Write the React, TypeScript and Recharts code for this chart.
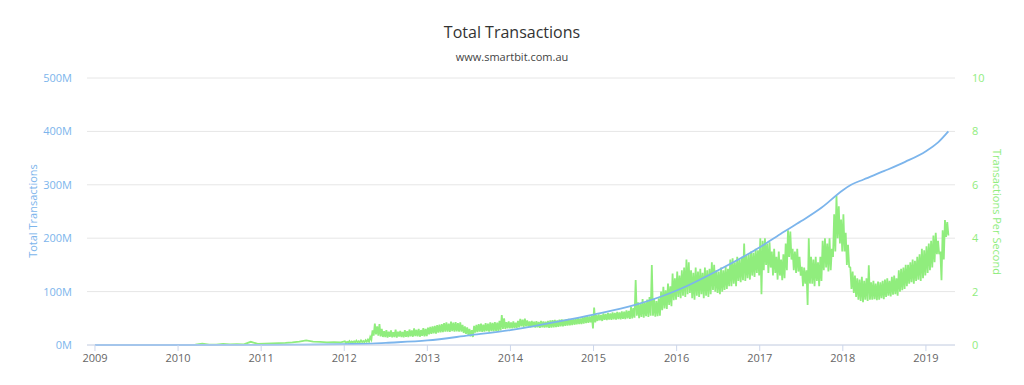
import React from "react";
import { LineChart, Line, XAxis, YAxis, CartesianGrid } from "recharts";

// Cumulative total transactions (millions)
const blueYears = [2009.0, 2010.0, 2011.0, 2011.5, 2012.0, 2012.33, 2012.5, 2013.0, 2013.5, 2014.0, 2014.5, 2015.0, 2015.5, 2016.0, 2016.5, 2017.0, 2017.25, 2017.5, 2017.75, 2018.0, 2018.1, 2018.25, 2018.5, 2018.75, 2019.0, 2019.15, 2019.27];
const blueTotals = [0, 0.03, 0.2, 0.8, 1.7, 2.6, 4, 8.5, 18, 28, 42, 57, 75, 102, 140, 183, 208, 232, 258, 290, 300, 310, 326, 343, 363, 380, 400];

// Transactions per second, monthly readings 2009-2011
const tps2009 = [0.002, 0.003, 0.002, 0.004, 0.003, 0.003, 0.004, 0.003, 0.005, 0.004, 0.005, 0.006];
const tps2010 = [0.006, 0.008, 0.01, 0.05, 0.012, 0.015, 0.04, 0.02, 0.03, 0.025, 0.12, 0.04];
const tps2011 = [0.05, 0.06, 0.07, 0.08, 0.1, 0.13, 0.17, 0.13, 0.12, 0.1, 0.11, 0.1];

// Transactions per second, daily swings read as highs and lows (~10-day steps)
const hi2012 = [0.14, 0.12, 0.15, 0.13, 0.14, 0.16, 0.14, 0.17, 0.15, 0.18, 0.2, 0.3, 0.55, 0.8, 0.7, 0.78, 0.6, 0.52, 0.56, 0.5, 0.55, 0.48, 0.58, 0.5, 0.53, 0.49, 0.56, 0.52, 0.58, 0.55, 0.62, 0.57, 0.6, 0.56, 0.63, 0.6];
const lo2012 = [0.08, 0.09, 0.08, 0.1, 0.09, 0.1, 0.1, 0.11, 0.1, 0.12, 0.12, 0.2, 0.35, 0.4, 0.35, 0.32, 0.3, 0.3, 0.28, 0.31, 0.29, 0.3, 0.28, 0.32, 0.3, 0.29, 0.31, 0.3, 0.32, 0.31, 0.33, 0.32, 0.31, 0.34, 0.32, 0.33];
const hi2013 = [0.65, 0.68, 0.7, 0.72, 0.74, 0.76, 0.78, 0.82, 0.85, 0.8, 0.88, 0.84, 0.86, 0.82, 0.85, 0.75, 0.7, 0.66, 0.6, 0.56, 0.72, 0.75, 0.78, 0.8, 0.76, 0.82, 0.8, 0.85, 0.83, 0.86, 0.84, 0.9, 1.12, 1.0, 0.86, 0.88];
const lo2013 = [0.4, 0.42, 0.44, 0.43, 0.46, 0.47, 0.48, 0.5, 0.5, 0.49, 0.52, 0.5, 0.51, 0.5, 0.5, 0.45, 0.42, 0.38, 0.32, 0.3, 0.46, 0.48, 0.5, 0.49, 0.5, 0.52, 0.5, 0.52, 0.51, 0.53, 0.52, 0.55, 0.6, 0.6, 0.62, 0.62];
const hi2014 = [0.85, 0.88, 0.84, 0.9, 0.98, 0.95, 0.99, 0.92, 0.88, 0.9, 0.87, 0.89, 0.86, 0.9, 0.88, 0.87, 0.9, 0.92, 0.93, 0.94, 0.92, 0.95, 0.96, 0.94, 0.97, 0.98, 0.96, 1.0, 0.98, 1.01, 1.0, 1.05, 1.06, 1.08, 1.07, 1.1];
const lo2014 = [0.62, 0.63, 0.64, 0.66, 0.7, 0.68, 0.7, 0.69, 0.66, 0.67, 0.65, 0.66, 0.64, 0.66, 0.65, 0.66, 0.64, 0.65, 0.66, 0.67, 0.68, 0.7, 0.7, 0.72, 0.73, 0.74, 0.75, 0.76, 0.77, 0.78, 0.78, 0.8, 0.82, 0.83, 0.85, 0.62];
const hi2015 = [1.4, 1.12, 1.15, 1.13, 1.18, 1.16, 1.2, 1.18, 1.22, 1.2, 1.24, 1.22, 1.26, 1.25, 1.3, 1.28, 1.43, 1.38, 2.43, 1.6, 1.55, 1.72, 1.6, 1.7, 1.8, 3.0, 1.72, 1.65, 1.75, 2.0, 2.18, 2.05, 2.3, 2.2, 2.68, 2.5];
const lo2015 = [0.85, 0.9, 0.92, 0.9, 0.94, 0.93, 0.95, 0.94, 0.96, 0.95, 0.97, 0.96, 0.98, 0.97, 1.0, 0.98, 1.0, 1.02, 1.1, 1.0, 1.05, 1.02, 1.08, 1.05, 1.1, 1.1, 1.06, 1.08, 1.1, 1.3, 1.37, 1.35, 1.5, 1.45, 1.68, 1.7];
const hi2016 = [2.75, 2.6, 2.8, 2.9, 3.2, 3.1, 2.8, 2.7, 2.9, 2.75, 2.85, 2.7, 2.9, 2.8, 2.85, 3.1, 3.0, 2.8, 2.75, 2.9, 2.8, 2.93, 2.85, 3.2, 3.25, 3.1, 3.3, 3.2, 3.3, 3.8, 3.35, 3.4, 3.5, 3.45, 3.6, 3.55];
const lo2016 = [1.8, 1.75, 1.85, 1.8, 1.9, 1.95, 1.75, 1.7, 1.85, 1.8, 1.9, 1.75, 1.85, 1.8, 1.9, 2.06, 2.0, 1.95, 1.9, 2.0, 2.06, 2.1, 2.2, 2.2, 2.3, 2.2, 2.4, 2.35, 2.43, 2.4, 2.5, 2.45, 2.6, 2.55, 2.7, 2.6];
const hi2017 = [4.0, 3.9, 4.0, 3.8, 3.85, 3.5, 3.6, 3.3, 3.5, 3.2, 3.4, 3.8, 4.3, 4.25, 3.6, 3.5, 3.6, 3.3, 2.93, 2.9, 2.8, 4.0, 3.3, 3.2, 3.3, 3.1, 3.3, 3.9, 4.0, 3.8, 4.0, 3.6, 4.9, 5.6, 5.2, 4.7];
const lo2017 = [1.9, 2.8, 3.0, 2.7, 2.9, 2.6, 2.7, 2.45, 2.6, 2.43, 2.5, 2.8, 3.3, 3.2, 2.8, 2.7, 2.75, 2.6, 2.2, 2.3, 1.5, 2.3, 2.3, 2.2, 2.4, 2.2, 2.4, 2.8, 2.9, 2.75, 2.8, 3.3, 3.5, 4.0, 3.8, 3.5];
const hi2018 = [4.9, 4.2, 3.75, 2.9, 2.75, 2.6, 2.5, 2.45, 2.55, 2.4, 2.5, 2.99, 2.35, 2.4, 2.3, 2.38, 2.35, 2.4, 2.45, 2.5, 2.4, 2.55, 2.6, 2.5, 2.8, 2.85, 2.9, 3.0, 3.0, 3.1, 3.2, 3.15, 3.3, 3.4, 3.6, 3.55];
const lo2018 = [3.5, 3.0, 2.93, 2.1, 1.95, 1.8, 1.7, 1.65, 1.6, 1.7, 1.65, 1.7, 1.7, 1.72, 1.68, 1.7, 1.75, 1.72, 1.8, 1.85, 1.82, 1.88, 1.9, 1.85, 2.0, 2.05, 2.1, 2.2, 2.3, 2.35, 2.3, 2.4, 2.45, 2.4, 2.5, 2.6];
const hi2019 = [3.7, 3.8, 3.9, 4.1, 4.2, 3.9, 3.5, 4.3, 4.68, 4.6];
const lo2019 = [2.7, 2.8, 2.9, 3.1, 3.4, 3.4, 2.43, 3.2, 4.05, 4.1];

const yearTicks = [2009, 2010, 2011, 2012, 2013, 2014, 2015, 2016, 2017, 2018, 2019];
const leftTicks = [0, 100e6, 200e6, 300e6, 400e6, 500e6];
const rightTicks = [0, 2, 4, 6, 8, 10];

const blueData = blueYears.map((t, i) => ({ t, v: blueTotals[i] * 1e6 }));

const monthlyYears: [number, number[]][] = [
  [2009, tps2009],
  [2010, tps2010],
  [2011, tps2011],
];
const swingYears: [number, number[], number[]][] = [
  [2012, hi2012, lo2012],
  [2013, hi2013, lo2013],
  [2014, hi2014, lo2014],
  [2015, hi2015, lo2015],
  [2016, hi2016, lo2016],
  [2017, hi2017, lo2017],
  [2018, hi2018, lo2018],
  [2019, hi2019, lo2019],
];
const greenData: { t: number; v: number }[] = [];
monthlyYears.forEach(([year, vals]) => {
  vals.forEach((v, i) => greenData.push({ t: year + (i + 0.5) / 12, v }));
});
swingYears.forEach(([year, hi, lo]) => {
  hi.forEach((h, i) => {
    greenData.push({ t: year + (i + 0.25) / 36, v: h });
    greenData.push({ t: year + (i + 0.75) / 36, v: lo[i] });
  });
});

const BLUE = "#7cb5ec";
const GREEN = "#90ed7d";
const FONT = "'Open Sans', 'DejaVu Sans', sans-serif";

export default function App() {
  return (
    <div style={{ position: "absolute", left: 0, top: 0, width: 1024, height: 385, background: "#fff", fontFamily: FONT }}>
      <div style={{ position: "absolute", left: 0, width: 1024, top: 20, textAlign: "center", fontSize: 16, color: "#333", lineHeight: "24px" }}>
        Total Transactions
      </div>
      <div style={{ position: "absolute", left: 0, width: 1024, top: 49, textAlign: "center", fontSize: 11, color: "#444", lineHeight: "16px" }}>
        www.smartbit.com.au
      </div>
      <div style={{ position: "absolute", left: 32, top: 211, width: 0, height: 0 }}>
        <div style={{ position: "absolute", transform: "translate(-50%, -50%) rotate(-90deg)", whiteSpace: "nowrap", fontSize: 11, color: BLUE }}>
          Total Transactions
        </div>
      </div>
      <div style={{ position: "absolute", left: 997, top: 212, width: 0, height: 0 }}>
        <div style={{ position: "absolute", transform: "translate(-50%, -50%) rotate(90deg)", whiteSpace: "nowrap", fontSize: 11, color: GREEN }}>
          Transactions Per Second
        </div>
      </div>
      <div style={{ position: "absolute", left: 0, top: 0 }}>
        <LineChart width={1024} height={385} margin={{ top: 78, right: 0, bottom: 0, left: 0 }}>
          <CartesianGrid vertical={false} stroke="#e6e6e6" yAxisId="left" />
          <XAxis
            dataKey="t"
            type="number"
            domain={[2008.904, 2019.35]}
            ticks={yearTicks}
            allowDataOverflow
            height={40}
            stroke="#ccd6eb"
            tickSize={6}
            tickMargin={3}
            tick={{ fill: "#666", fontSize: 11, fontFamily: FONT }}
            tickFormatter={(v: number) => String(Math.round(v))}
          />
          <YAxis
            yAxisId="left"
            orientation="left"
            width={87}
            domain={[0, 500e6]}
            ticks={leftTicks}
            axisLine={false}
            tickLine={false}
            tickSize={0}
            tickMargin={15}
            tick={{ fill: BLUE, fontSize: 11, fontFamily: FONT }}
            tickFormatter={(v: number) => `${Math.round(v / 1e6)}M`}
          />
          <YAxis
            yAxisId="right"
            orientation="right"
            width={69}
            domain={[0, 10]}
            ticks={rightTicks}
            axisLine={false}
            tickLine={false}
            tickSize={0}
            tickMargin={17}
            tick={{ fill: GREEN, fontSize: 11, fontFamily: FONT }}
          />
          <Line
            data={greenData}
            dataKey="v"
            yAxisId="right"
            type="linear"
            stroke={GREEN}
            strokeWidth={1.8}
            dot={false}
            isAnimationActive={false}
          />
          <Line
            data={blueData}
            dataKey="v"
            yAxisId="left"
            type="monotone"
            stroke={BLUE}
            strokeWidth={1.8}
            dot={false}
            isAnimationActive={false}
          />
        </LineChart>
      </div>
    </div>
  );
}
